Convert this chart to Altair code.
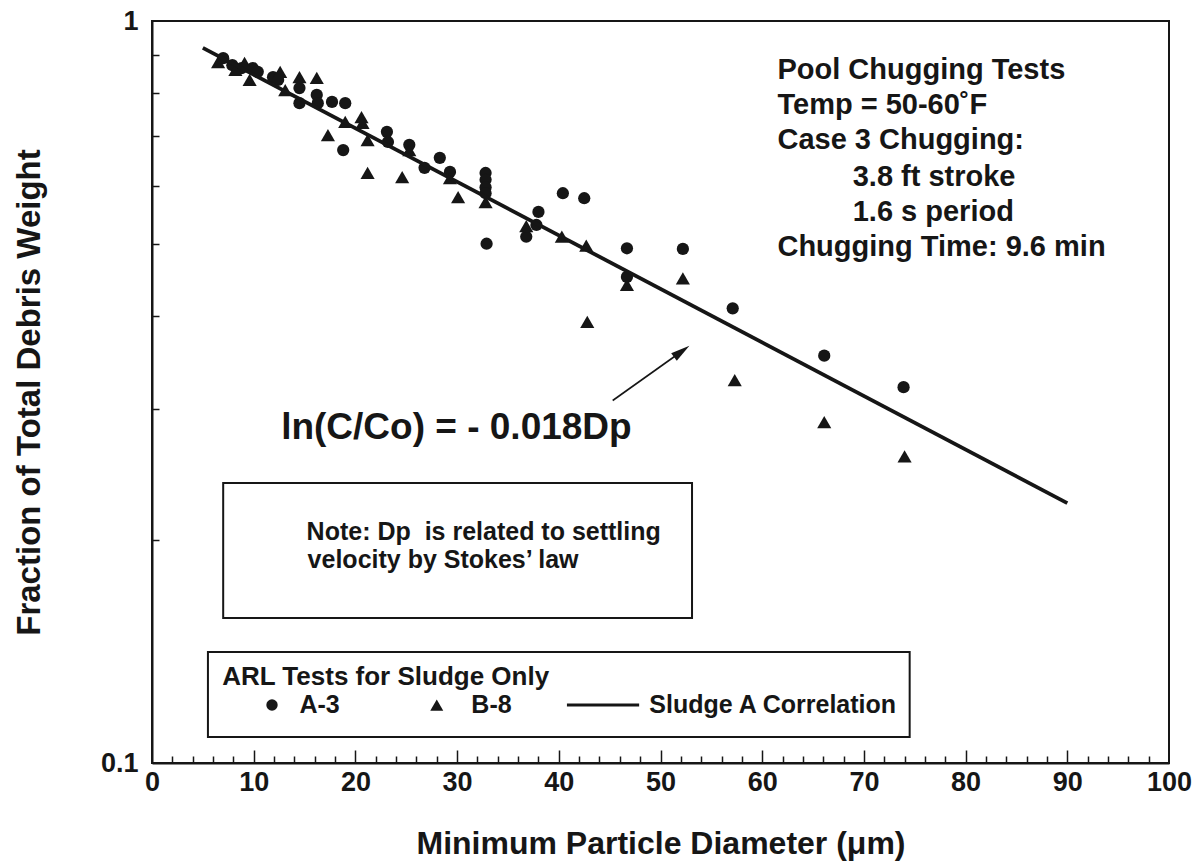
import altair as alt
import pandas as pd

# ---------------- data ----------------
# ARL test A-3 (filled circles)
a3_dp = [7.0, 7.9, 8.8, 9.9, 10.4, 11.9, 12.4, 14.5, 14.5, 16.2, 16.3, 17.7, 19.0, 18.8,
         23.1, 23.2, 25.3, 26.8, 28.3, 29.3, 32.8, 32.8, 32.8, 32.8, 32.9, 36.8, 38.0,
         37.8, 40.4, 42.5, 46.7, 46.7, 52.2, 57.1, 66.1, 73.9]
a3_frac = [0.891, 0.872, 0.864, 0.864, 0.854, 0.840, 0.833, 0.812, 0.775, 0.795, 0.775,
           0.778, 0.775, 0.670, 0.709, 0.687, 0.681, 0.634, 0.654, 0.626, 0.624, 0.611,
           0.597, 0.586, 0.501, 0.512, 0.553, 0.531, 0.586, 0.577, 0.494, 0.452, 0.493,
           0.410, 0.354, 0.321]

# ARL test B-8 (filled triangles)
b8_dp = [6.5, 8.2, 9.1, 9.6, 12.6, 13.1, 14.5, 16.2, 17.3, 19.0, 20.6, 20.7, 21.2, 21.2,
         24.6, 25.3, 29.3, 30.1, 32.8, 36.8, 40.3, 42.7, 42.8, 46.7, 52.2, 57.3, 66.1, 74.0]
b8_frac = [0.880, 0.859, 0.878, 0.833, 0.854, 0.807, 0.840, 0.838, 0.702, 0.731, 0.742,
           0.729, 0.624, 0.691, 0.616, 0.670, 0.614, 0.579, 0.570, 0.529, 0.512, 0.498,
           0.393, 0.441, 0.450, 0.328, 0.288, 0.259]

# Sludge A correlation line (end points as drawn)
corr_dp = [5.0, 90.0]
corr_frac = [0.92, 0.224]

# axis ticks
x_major = [0, 10, 20, 30, 40, 50, 60, 70, 80, 90, 100]
x_major_inner = [10, 20, 30, 40, 50, 60, 70, 80, 90]
x_minor = [v for v in range(2, 100, 2) if v % 10 != 0]
y_labels = [0.1, 1]
y_minor = [0.2, 0.3, 0.4, 0.5, 0.6, 0.7, 0.8, 0.9]

# annotation texts
info_text = ["Pool Chugging Tests", "Temp = 50-60˚F", "Case 3 Chugging:",
             "3.8 ft stroke", "1.6 s period", "Chugging Time: 9.6 min"]
info_x = [61.5, 61.5, 61.5, 68.9, 68.9, 61.5]
info_y = [0.859, 0.770, 0.691, 0.616, 0.553, 0.496]

eq_text = ["ln(C/Co) = - 0.018Dp"]
eq_x = [12.7]
eq_y = [0.283]

arrow_from = (45.3, 0.308)
arrow_to = (52.0, 0.358)

note_box = dict(x=7.0, x2=53.1, y=0.1568, y2=0.2384)
note_text = ["Note: Dp\u00a0 is related to settling", "\u00a0velocity by Stokes’ law"]
note_x = [15.2, 15.3]
note_y = [0.2048, 0.1877]

leg_box = dict(x=5.5, x2=74.5, y=0.1084, y2=0.1411)
leg_title = ["ARL Tests for Sludge Only"]
leg_title_x = [6.9]
leg_title_y = [0.1306]
leg_row_y = 0.1197
leg_labels = ["A-3", "B-8", "Sludge A Correlation"]
leg_label_x = [14.5, 31.4, 48.9]
leg_circle_x = 11.8
leg_tri_x = 28.0
leg_line_x = (40.8, 47.9)

# ---------------- styling ----------------
INK = "#161616"
FONT = "Liberation Sans"
W, H = 1017, 742

xs = alt.Scale(domain=[0, 100], nice=False, zero=False)
ys = alt.Scale(type="log", domain=[0.1, 1], nice=False)

x_axis_main = alt.Axis(orient="bottom", values=x_major, ticks=False, grid=False,
                       domainColor=INK, domainWidth=2, labelFont=FONT, labelFontSize=27,
                       labelFontWeight="bold", labelColor=INK, labelPadding=6,
                       labelFlush=False, labelOverlap=False, format="d",
                       titleFont=FONT, titleFontSize=32, titleFontWeight="bold",
                       titleColor=INK, titlePadding=33)
y_axis_main = alt.Axis(orient="left", values=y_labels, ticks=False, grid=False,
                       domainColor=INK, domainWidth=2, labelFont=FONT, labelFontSize=27,
                       labelFontWeight="bold", labelColor=INK, labelPadding=14,
                       labelFlush=False, labelOverlap=False, format="~g",
                       titleFont=FONT, titleFontSize=33, titleFontWeight="bold",
                       titleColor=INK, titlePadding=54)
x_axis_minor = alt.Axis(orient="top", offset=-H, values=x_minor, tickSize=7, tickWidth=1.5,
                        tickColor=INK, labels=False, domain=False, grid=False)
x_axis_major = alt.Axis(orient="top", offset=-H, values=x_major_inner, tickSize=13,
                        tickWidth=1.5, tickColor=INK, labels=False, domain=False, grid=False)
y_axis_ticks = alt.Axis(orient="right", offset=-W, values=y_minor, tickSize=7, tickWidth=1.5,
                        tickColor=INK, labels=False, domain=False, grid=False)

df_a3 = pd.DataFrame({"dp": a3_dp, "frac": a3_frac})
df_b8 = pd.DataFrame({"dp": b8_dp, "frac": b8_frac})
df_corr = pd.DataFrame({"dp": corr_dp, "frac": corr_frac})

circles = alt.Chart(df_a3).mark_point(shape="circle", filled=True, size=150, color=INK,
                                      opacity=1).encode(
    x=alt.X("dp:Q", scale=xs, axis=x_axis_main, title="Minimum Particle Diameter (μm)"),
    y=alt.Y("frac:Q", scale=ys, axis=y_axis_main, title="Fraction of Total Debris Weight"),
)
triangles = alt.Chart(df_b8).mark_point(shape="triangle-up", filled=True, size=200,
                                        color=INK, opacity=1).encode(
    x=alt.X("dp:Q", scale=xs, axis=x_axis_minor, title=""),
    y=alt.Y("frac:Q", scale=ys, axis=y_axis_ticks, title=""),
)
corr_line = alt.Chart(df_corr).mark_line(color=INK, strokeWidth=3.8).encode(
    x=alt.X("dp:Q", scale=xs, axis=x_axis_major, title=""),
    y=alt.Y("frac:Q", scale=ys, axis=None),
)


def xq(field="x"):
    return alt.X(f"{field}:Q", scale=xs, axis=None)


def yq(field="y"):
    return alt.Y(f"{field}:Q", scale=ys, axis=None)


info = alt.Chart(pd.DataFrame({"x": info_x, "y": info_y, "t": info_text})).mark_text(
    align="left", baseline="middle", font=FONT, fontSize=29, fontWeight="bold", color=INK
).encode(x=xq(), y=yq(), text="t:N")

eq = alt.Chart(pd.DataFrame({"x": eq_x, "y": eq_y, "t": eq_text})).mark_text(
    align="left", baseline="middle", font=FONT, fontSize=37, fontWeight="bold", color=INK
).encode(x=xq(), y=yq(), text="t:N")

arrow_df = pd.DataFrame({"x": [arrow_from[0]], "y": [arrow_from[1]],
                         "x2": [arrow_to[0]], "y2": [arrow_to[1]]})
arrow_shaft = alt.Chart(arrow_df).mark_rule(color=INK, strokeWidth=1.6).encode(
    x=xq(), y=yq(), x2="x2:Q", y2="y2:Q")
arrow_head = alt.Chart(pd.DataFrame({"x": [arrow_to[0]], "y": [arrow_to[1]]})).mark_point(
    shape="M0,-1L0.45,0.8L-0.45,0.8Z", filled=True, size=450, angle=54, color=INK, opacity=1
).encode(x=xq(), y=yq())

note_rect = alt.Chart(pd.DataFrame([note_box])).mark_rect(
    fill="white", stroke=INK, strokeWidth=2).encode(x=xq(), x2="x2:Q", y=yq(), y2="y2:Q")
note = alt.Chart(pd.DataFrame({"x": note_x, "y": note_y, "t": note_text})).mark_text(
    align="left", baseline="middle", font=FONT, fontSize=25, fontWeight="bold", color=INK
).encode(x=xq(), y=yq(), text="t:N")

leg_rect = alt.Chart(pd.DataFrame([leg_box])).mark_rect(
    fill="white", stroke=INK, strokeWidth=2).encode(x=xq(), x2="x2:Q", y=yq(), y2="y2:Q")
leg_t = alt.Chart(pd.DataFrame({"x": leg_title_x, "y": leg_title_y, "t": leg_title})).mark_text(
    align="left", baseline="middle", font=FONT, fontSize=26, fontWeight="bold", color=INK
).encode(x=xq(), y=yq(), text="t:N")
leg_lab = alt.Chart(pd.DataFrame({"x": leg_label_x, "y": [leg_row_y] * 3, "t": leg_labels})).mark_text(
    align="left", baseline="middle", font=FONT, fontSize=25, fontWeight="bold", color=INK
).encode(x=xq(), y=yq(), text="t:N")
leg_circ = alt.Chart(pd.DataFrame({"x": [leg_circle_x], "y": [leg_row_y]})).mark_point(
    shape="circle", filled=True, size=130, color=INK, opacity=1).encode(x=xq(), y=yq())
leg_tri = alt.Chart(pd.DataFrame({"x": [leg_tri_x], "y": [leg_row_y]})).mark_point(
    shape="triangle-up", filled=True, size=170, color=INK, opacity=1).encode(x=xq(), y=yq())
leg_line = alt.Chart(pd.DataFrame({"x": [leg_line_x[0]], "x2": [leg_line_x[1]],
                                   "y": [leg_row_y]})).mark_rule(
    color=INK, strokeWidth=3).encode(x=xq(), x2="x2:Q", y=yq())

chart = alt.layer(
    circles, triangles, corr_line, info, eq, arrow_shaft, arrow_head,
    note_rect, note, leg_rect, leg_t, leg_lab, leg_circ, leg_tri, leg_line,
).resolve_axis(x="independent", y="independent").properties(
    width=W, height=H,
    autosize=alt.AutoSizeParams(type="none"),
    padding={"left": 152, "top": 21, "right": 34, "bottom": 102},
    background="white",
).configure_view(stroke=INK, strokeWidth=2)

chart.save("out.html", embed_options={"renderer": "svg", "actions": False})
